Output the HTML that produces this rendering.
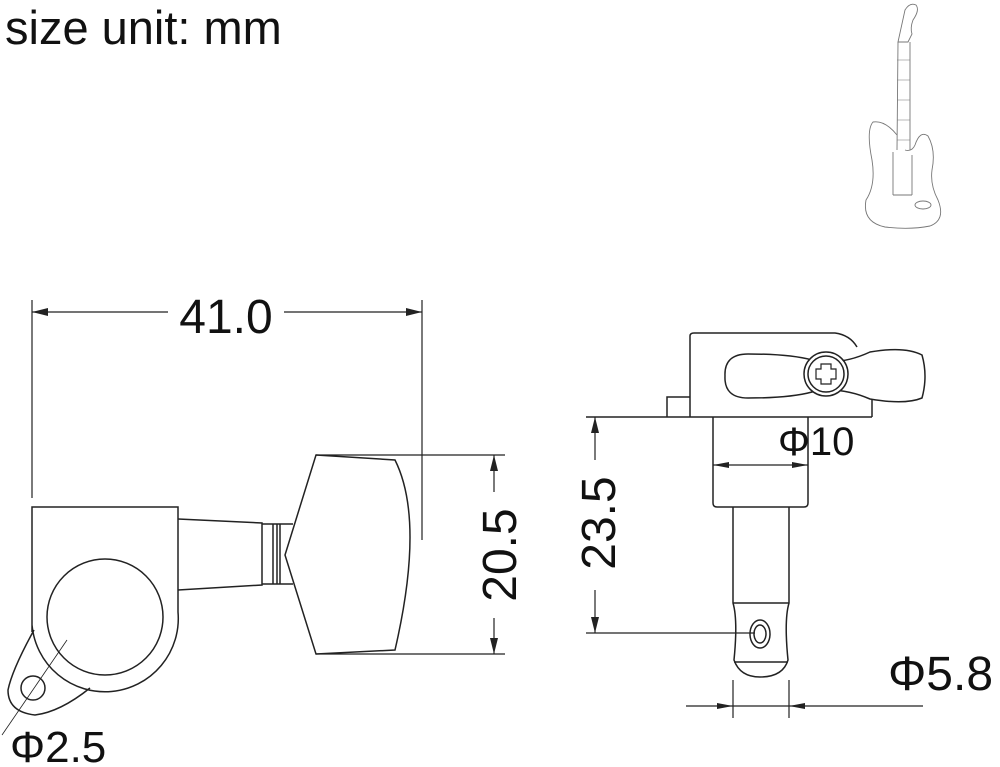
<!DOCTYPE html>
<html><head><style>html,body{margin:0;padding:0;background:#fff;}svg{display:block}</style></head>
<body>
<svg width="1000" height="767" viewBox="0 0 1000 767" xmlns="http://www.w3.org/2000/svg" font-family="Liberation Sans, sans-serif">
<text x="5" y="44" font-size="47" fill="#111">size unit: mm</text>
<!-- guitar -->
<g fill="none" stroke="#777" stroke-width="0.9">
<path d="M898,42 L905,10 Q910,2 916,5 Q920,10 913,20 Q910,28 912,34 L908,42 Z"/>
<path d="M898,42 L897,150 M910,42 L910,150"/>
<path d="M897,135 Q885,120 873,122 Q866,130 872,160 Q876,185 866,200 Q862,222 885,227 Q910,230 930,226 Q946,220 938,200 Q930,185 932,170 Q936,150 928,136 Q920,130 915,145 Q912,152 905,150"/>
<path d="M893,152 L893,195 M912,155 L912,195 M893,195 L912,195"/>
<ellipse cx="923" cy="205" rx="8" ry="4"/>
<path d="M897,60 L910,60 M897,80 L910,80 M897,100 L910,100 M897,120 L910,120 M897,140 L910,140" stroke-width="0.6"/>
</g>
<g fill="none" stroke="#222" stroke-width="1.5">
<line x1="32" y1="300" x2="32" y2="498" stroke-width="1.2"/>
<line x1="422" y1="300" x2="422" y2="540" stroke-width="1.2"/>
<line x1="32" y1="312" x2="168" y2="312" stroke-width="1.2"/>
<line x1="284" y1="312" x2="422" y2="312" stroke-width="1.2"/>
<path d="M32,632 L32,507 L178,507 L178,612 A73,73 0 0 1 32,625"/>
<circle cx="105" cy="617" r="58"/>
<path d="M34,630 Q12,670 8,690 Q8,712 35,715 Q60,712 90,688"/>
<circle cx="33" cy="688" r="12"/>
<line x1="2" y1="735" x2="67" y2="640" stroke-width="0.8"/>
<path d="M178,519 L262,523 L262,585 L178,590"/>
<path d="M262,524 L293,524 M262,584 L293,584 M273,524 L273,584 M277,524 L277,584 M280,524 L280,584"/>
<path d="M316,455 L395,460 Q425,520 395,650 L316,654 L285,555 Z"/>
<line x1="316" y1="455" x2="505" y2="455" stroke-width="1.2"/>
<line x1="316" y1="654" x2="505" y2="654" stroke-width="1.2"/>
<line x1="494" y1="455" x2="494" y2="492" stroke-width="1.2"/>
<line x1="494" y1="618" x2="494" y2="654" stroke-width="1.2"/>
<!-- right view -->
<line x1="586" y1="417" x2="872" y2="417"/>
<path d="M690,417 L690,336 Q690,333 694,333 L835,333 Q850,335 857,347"/>
<path d="M667,417 L667,397 L690,397"/>
<path d="M872,417 L872,400"/>
<path d="M725,376 Q724,354 748,354 Q790,354 812,360 Q840,366 870,352 Q905,346 922,355 Q928,376 922,398 Q905,405 870,399 Q840,386 812,392 Q790,398 748,398 Q724,398 725,376 Z" fill="#fff"/>
<circle cx="826" cy="374" r="22" fill="#fff"/>
<circle cx="826" cy="374" r="18"/>
<path d="M821,364 h10 v5 h5 v10 h-5 v5 h-10 v-5 h-5 v-10 h5 z" stroke-width="1.2"/>
<path d="M713,417 L713,503 Q713,507 717,507 L804,507 Q808,507 808,503 L808,417"/>
<path d="M733,507 L733,603 Q738,620 734,660 Q740,677 760,677 Q783,677 788,660 Q784,620 789,603 L789,507"/>
<line x1="733" y1="603" x2="789" y2="603"/>
<line x1="734" y1="662" x2="788" y2="662"/>
<ellipse cx="760" cy="634" rx="10" ry="14"/>
<ellipse cx="760" cy="634" rx="6" ry="9"/>
<line x1="595" y1="417" x2="595" y2="460" stroke-width="1.2"/>
<line x1="595" y1="590" x2="595" y2="633" stroke-width="1.2"/>
<line x1="586" y1="633" x2="755" y2="633" stroke-width="1.2"/>
<line x1="713" y1="465" x2="808" y2="465" stroke-width="1.2"/>
<line x1="733" y1="680" x2="733" y2="718" stroke-width="1.2"/>
<line x1="789" y1="680" x2="789" y2="718" stroke-width="1.2"/>
<line x1="686" y1="706" x2="923" y2="706" stroke-width="1.2"/>
</g>
<g fill="#222">
<path d="M32,312 l16,-4 v8 z M422,312 l-16,-4 v8 z"/>
<path d="M494,455 l-4,16 h8 z M494,654 l-4,-16 h8 z"/>
<path d="M595,417 l-4,16 h8 z M595,633 l-4,-16 h8 z"/>
<path d="M713,465 l16,-3 v6 z M808,465 l-16,-3 v6 z"/>
<path d="M733,706 l-16,-3 v6 z M789,706 l16,-3 v6 z"/>
</g>
<g fill="#111">
<text x="226" y="333" font-size="48" text-anchor="middle">41.0</text>
<text transform="translate(516,555) rotate(-90)" font-size="48" text-anchor="middle">20.5</text>
<text transform="translate(615,523) rotate(-90)" font-size="48" text-anchor="middle">23.5</text>
<text x="778" y="455" font-size="40">Φ10</text>
<text x="888" y="690" font-size="48">Φ5.8</text>
<text x="10" y="762" font-size="44">Φ2.5</text>
</g>
</svg>
</body></html>
